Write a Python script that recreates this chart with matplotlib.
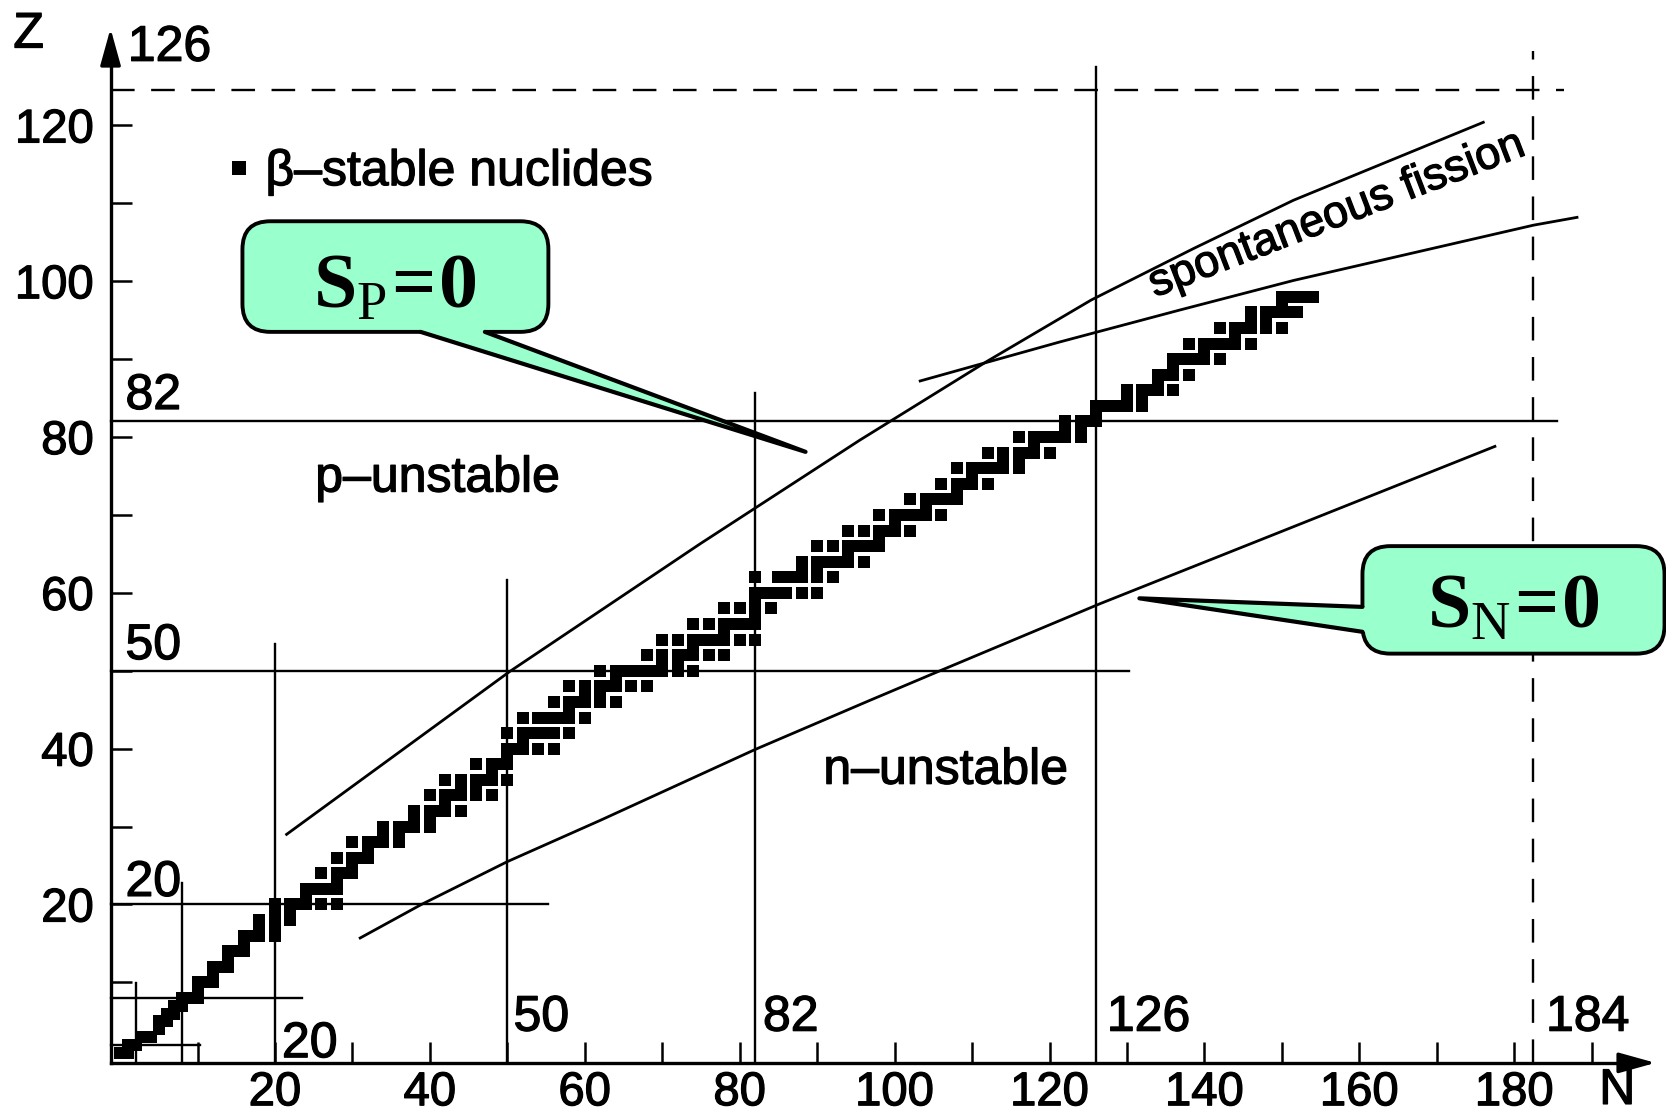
import matplotlib.pyplot as plt
import matplotlib.patheffects as pe
from matplotlib.lines import Line2D
from matplotlib.patches import FancyBboxPatch, Polygon

plt.rcParams['font.family'] = ['Liberation Sans', 'DejaVu Sans']
plt.rcParams['mathtext.fontset'] = 'custom'
plt.rcParams['mathtext.rm'] = 'Liberation Serif'
plt.rcParams['mathtext.bf'] = 'Liberation Serif:bold'

# beta-stable nuclides: (Z, list of N)
beta_stable = [
    (1, [0, 1]), (2, [1, 2]), (3, [3, 4]), (4, [5]), (5, [5, 6]), (6, [6, 7]),
    (7, [7, 8]), (8, [8, 9, 10]), (9, [10]), (10, [10, 11, 12]), (11, [12]),
    (12, [12, 13, 14]), (13, [14]), (14, [14, 15, 16]), (15, [16]),
    (16, [16, 17, 18, 20]), (17, [18, 20]), (18, [18, 20, 22]), (19, [20, 22]),
    (20, [20, 22, 23, 24, 26, 28]), (21, [24]), (22, [24, 25, 26, 27, 28]),
    (23, [28]), (24, [26, 28, 29, 30]), (25, [30]), (26, [28, 30, 31, 32]),
    (27, [32]), (28, [30, 32, 33, 34, 36]), (29, [34, 36]),
    (30, [34, 36, 37, 38, 40]), (31, [38, 40]), (32, [38, 40, 41, 42, 44]),
    (33, [42]), (34, [40, 42, 43, 44, 46, 48]), (35, [44, 46]),
    (36, [42, 44, 46, 47, 48, 50]), (37, [48]), (38, [46, 48, 49, 50]),
    (39, [50]), (40, [50, 51, 52, 54, 56]), (41, [52]),
    (42, [50, 52, 53, 54, 55, 56, 58]), (44, [52, 54, 55, 56, 57, 58, 60]),
    (45, [58]), (46, [56, 58, 59, 60, 62, 64]), (47, [60, 62]),
    (48, [58, 60, 62, 63, 64, 66, 68]), (49, [64]),
    (50, [62, 64, 65, 66, 67, 68, 69, 70, 72, 74]), (51, [70, 72]),
    (52, [68, 70, 72, 73, 74, 76, 78]), (53, [74]),
    (54, [70, 72, 74, 75, 76, 77, 78, 80, 82]), (55, [78]),
    (56, [74, 76, 78, 79, 80, 81, 82]), (57, [82]), (58, [78, 80, 82, 84]),
    (59, [82]), (60, [82, 83, 84, 85, 86, 88, 90]),
    (62, [82, 85, 86, 87, 88, 90, 92]), (63, [88, 90]),
    (64, [88, 90, 91, 92, 93, 94, 96]), (65, [94]),
    (66, [90, 92, 94, 95, 96, 97, 98]), (67, [98]),
    (68, [94, 96, 98, 99, 100, 102]), (69, [100]),
    (70, [98, 100, 101, 102, 103, 104, 106]), (71, [104]),
    (72, [102, 104, 105, 106, 107, 108]), (73, [108]),
    (74, [106, 108, 109, 110, 112]), (75, [110]),
    (76, [108, 110, 111, 112, 113, 114, 116]), (77, [114, 116]),
    (78, [112, 114, 116, 117, 118, 120]), (79, [118]),
    (80, [116, 118, 119, 120, 121, 122, 124]), (81, [122, 124]),
    (82, [122, 124, 125, 126]), (83, [126]),
    (84, [126, 127, 128, 129, 130, 132]), (85, [130, 132]),
    (86, [130, 132, 133, 134, 136]), (87, [134]), (88, [134, 135, 136, 138]),
    (89, [136]), (90, [136, 137, 138, 139, 140, 142]), (91, [140]),
    (92, [138, 140, 141, 142, 143, 144, 146]), (93, [144]),
    (94, [142, 144, 145, 146, 148, 150]), (95, [146, 148]),
    (96, [146, 148, 149, 150, 151, 152]), (97, [150]),
    (98, [150, 151, 152, 153, 154]),
]

# drip lines and fission limit
sp_N = [21.5, 50.3, 74.9, 95.5, 111.9, 125.4, 138.6, 151.5, 176.0]
sp_Z = [29.0, 49.9, 66.3, 79.6, 89.7, 97.6, 104.2, 110.4, 120.4]
sn_N = [31.0, 38.9, 50.0, 62.0, 82.0, 96.8, 104.9, 126.5, 150.0, 177.5]
sn_Z = [15.7, 20.0, 25.5, 30.8, 39.9, 46.2, 49.6, 58.6, 67.9, 78.8]
fis_N = [103.3, 121.3, 136.8, 151.5, 182.5, 188.1]
fis_Z = [87.2, 92.2, 96.3, 100.1, 107.2, 108.2]

# magic-number lines: (position, where the line stops)
magic_Z = [(2, 10.3), (8, 23.5), (20, 55.3), (50, 130.3), (82, 185.5)]
magic_N = [(2, 9.9), (8, 22.8), (20, 53.5), (50, 61.7), (82, 85.6), (126, 127.5)]
pred_Z = (124.5, 186.4)   # predicted Z=126 shell (dashed)
pred_N = (182.4, 129.6)   # predicted N=184 shell (dashed)

# magic labels: (text, N, Z)
magic_labels = [('126', 1.0, 128.3), ('82', 0.7, 83.6), ('50', 0.7, 51.5),
                ('20', 0.7, 21.1), ('20', 20.9, 0.4), ('50', 50.8, 3.8),
                ('82', 83.0, 3.8), ('126', 127.4, 3.8), ('184', 184.1, 3.8)]

x0, y0 = -1.23, -0.33
green = '#99ffcc'
bold = [pe.withStroke(linewidth=0.9, foreground='black')]

fig = plt.figure(figsize=(16.66, 11.16), dpi=100)
ax = fig.add_axes([0, 0, 1, 1])
ax.set_xlim(-15.50, 199.59)
ax.set_ylim(-7.15, 136.10)

# axes with arrows
for s in ['top', 'right']:
    ax.spines[s].set_visible(False)
ax.spines['left'].set_position(('data', x0))
ax.spines['bottom'].set_position(('data', y0))
ax.spines['left'].set_bounds(y0, 130.5)
ax.spines['bottom'].set_bounds(x0, 195.5)
for s in ['left', 'bottom']:
    ax.spines[s].set_linewidth(2.4)
ax.annotate('', xy=(x0, 132.8), xytext=(x0, 128.5),
            arrowprops=dict(arrowstyle='-|>,head_length=0.9,head_width=0.25',
                            color='black', lw=2.4, mutation_scale=25))
ax.annotate('', xy=(198.6, y0), xytext=(194.0, y0),
            arrowprops=dict(arrowstyle='-|>,head_length=0.9,head_width=0.25',
                            color='black', lw=2.4, mutation_scale=25))

ax.set_xticks(range(20, 181, 20))
ax.set_xticks(range(10, 191, 20), minor=True)
ax.set_yticks(range(20, 121, 20))
ax.set_yticks(range(10, 111, 20), minor=True)
ax.tick_params(which='both', direction='in', length=15, width=1.8)
ax.tick_params(which='major', labelsize=34)
ax.tick_params(axis='x', which='major', pad=6)
ax.tick_params(axis='y', which='major', pad=12)
for lab in ax.get_xticklabels() + ax.get_yticklabels():
    lab.set_path_effects(bold)

ax.text(-11.8, 130.0, 'Z', fontsize=36, ha='center', va='baseline',
        path_effects=bold)
ax.text(193.3, -5.6, 'N', fontsize=36, ha='center', va='baseline',
        path_effects=bold)

# magic numbers
lw_m = 1.7
for z, n_end in magic_Z:
    ax.plot([x0, n_end], [z, z], color='black', lw=lw_m)
for n, z_end in magic_N:
    ax.plot([n, n], [y0, z_end], color='black', lw=lw_m)
ax.plot([x0, pred_Z[1]], [pred_Z[0], pred_Z[0]], color='black', lw=lw_m,
        linestyle=(0, (10, 7)))
ax.plot([pred_N[0], pred_N[0]], [y0, pred_N[1]], color='black', lw=lw_m,
        linestyle=(0, (10, 7)))
for txt, n, z in magic_labels:
    ax.text(n, z, txt, fontsize=36, ha='left', va='baseline', path_effects=bold)

# curves
ax.plot(sp_N, sp_Z, color='black', lw=2.0)
ax.plot(sn_N, sn_Z, color='black', lw=2.0)
ax.plot(fis_N, fis_Z, color='black', lw=2.0)

# stable nuclides
st_N = [n for z, ns in beta_stable for n in ns]
st_Z = [z for z, ns in beta_stable for n in ns]
ax.plot(st_N, st_Z, linestyle='none', marker='s', ms=8.6, mew=0,
        color='black', zorder=5)

handle = Line2D([], [], linestyle='none', marker='s', ms=9.5, mew=0, color='black')
leg = ax.legend([handle], ['\u03b2\u2013stable nuclides'], loc='center left',
                bbox_to_anchor=(13.6, 114.0), bbox_transform=ax.transData,
                frameon=False, fontsize=36, handlelength=0.55,
                handletextpad=0.25, borderpad=0, borderaxespad=0)
for t in leg.get_texts():
    t.set_path_effects(bold)

ax.text(25.2, 73.0, 'p\u2013unstable', fontsize=36, ha='left', va='baseline',
        path_effects=bold)
ax.text(90.8, 35.5, 'n\u2013unstable', fontsize=36, ha='left', va='baseline',
        path_effects=bold)
ax.text(157.6, 107.1, 'spontaneous fission', fontsize=32.5, rotation=21,
        rotation_mode='anchor', ha='center', va='baseline', path_effects=bold)


def callout(x, y, w, h, base1, base2, inner1, inner2, tip, label, tx, ty):
    box = FancyBboxPatch((x, y), w, h, boxstyle='round,pad=0,rounding_size=3.6',
                         fc=green, ec='black', lw=2.8, zorder=10, clip_on=False)
    ax.add_patch(box)
    ax.add_patch(Polygon([inner1, base1, tip, base2, inner2], closed=True,
                         fc=green, ec='none', zorder=11))
    ax.plot([base1[0], tip[0], base2[0]], [base1[1], tip[1], base2[1]],
            color='black', lw=3.0, zorder=12, solid_joinstyle='round',
            solid_capstyle='round')
    ax.text(tx, ty, label, fontsize=56, ha='center', va='baseline', zorder=13)


callout(15.8, 93.5, 39.5, 14.2, (38.8, 93.5), (47.1, 93.5),
        (38.8, 95.2), (47.1, 95.2), (88.5, 78.1),
        r'$\mathbf{S}_{\mathrm{P}}\!\mathbf{=}\!\mathbf{0}$', 35.5, 96.7)
callout(160.4, 52.2, 39.0, 13.8, (160.4, 58.2), (160.4, 55.0),
        (162.2, 58.2), (162.2, 55.0), (131.6, 59.3),
        r'$\mathbf{S}_{\mathrm{N}}\!\mathbf{=}\!\mathbf{0}$', 179.9, 55.6)

fig.savefig('out.png', dpi=100)
